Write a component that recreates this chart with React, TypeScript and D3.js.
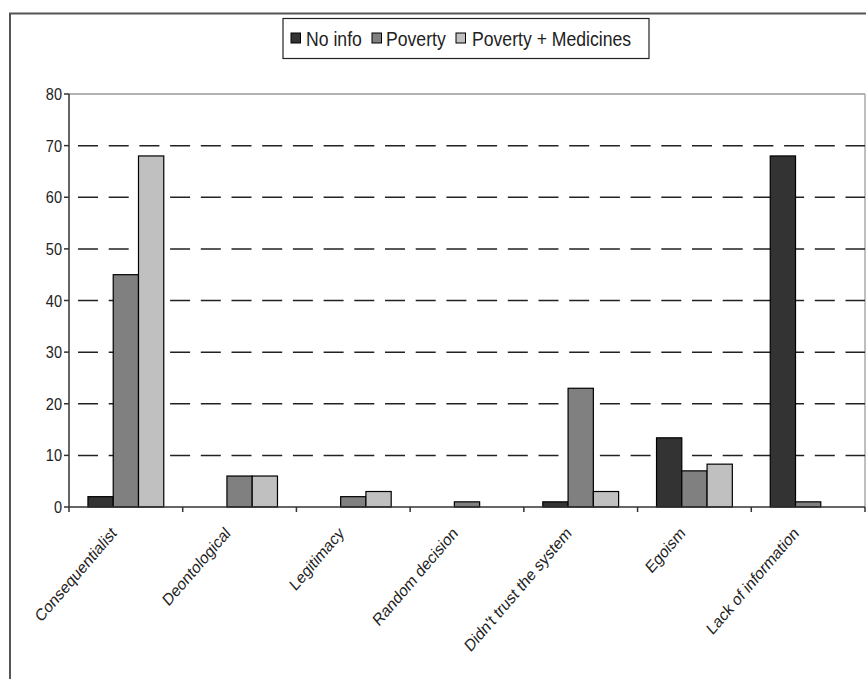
import React from "react";
import * as d3 from "d3";

const categories = [
  "Consequentialist",
  "Deontological",
  "Legitimacy",
  "Random decision",
  "Didn't trust the system",
  "Egoism",
  "Lack of information",
];
const seriesNames = ["No info", "Poverty", "Poverty + Medicines"];
const noInfo = [2, 0, 0, 0, 1, 13.4, 68];
const poverty = [45, 6, 2, 1, 23, 7, 1];
const povertyMedicines = [68, 6, 3, 0, 3, 8.3, 0];
const seriesColors = ["#333333", "#808080", "#c0c0c0"];
const yTicks = [0, 10, 20, 30, 40, 50, 60, 70, 80];

const W = 866;
const H = 679;
const left = 69;
const right = 865;
const top = 94;
const bottom = 507;
const FONT = "'Liberation Sans', Arial, sans-serif";

export default function App() {
  const values = [noInfo, poverty, povertyMedicines];
  const x = d3.scaleBand<string>().domain(categories).range([left, right]).padding(0);
  const bw = x.bandwidth();
  const gap = (bw * 1.5) / 4.5;
  const inner = d3
    .scaleBand<string>()
    .domain(seriesNames)
    .range([gap / 2, bw - gap / 2])
    .padding(0);
  const y = d3.scaleLinear().domain([0, 80]).range([bottom, top]);

  const legendItems = [
    { mx: 291, tx: 306 },
    { mx: 372, tx: 386 },
    { mx: 456, tx: 472 },
  ];

  return (
    <svg
      width={W}
      height={H}
      style={{ position: "absolute", left: 0, top: 0, background: "#fff" }}
      fontFamily={FONT}
    >
      {/* outer chart border */}
      <rect x={10} y={13.5} width={900} height={700} fill="none" stroke="#555" strokeWidth={2} />

      {/* legend */}
      <rect x={283} y={18.5} width={366} height={40} fill="#fff" stroke="#222" strokeWidth={1.2} />
      {seriesNames.map((s, i) => (
        <g key={s}>
          <rect
            x={legendItems[i].mx}
            y={33}
            width={9.5}
            height={10}
            fill={seriesColors[i]}
            stroke="#000"
            strokeWidth={1}
          />
          <text
            transform={`translate(${legendItems[i].tx},45.5) scale(0.84,1)`}
            fontSize={21}
            fill="#222"
          >
            {s}
          </text>
        </g>
      ))}

      {/* plot area border (top & right) */}
      <line x1={left} x2={right} y1={top} y2={top} stroke="#999" strokeWidth={1.5} />
      <line x1={right} x2={right} y1={top} y2={bottom} stroke="#aaa" strokeWidth={1.5} />

      {/* gridlines */}
      {yTicks
        .filter((t) => t > 0 && t < 80)
        .map((t) => (
          <line
            key={t}
            x1={left}
            x2={right}
            y1={y(t)}
            y2={y(t)}
            stroke="#222"
            strokeWidth={1.5}
            strokeDasharray="20,10.7"
            strokeDashoffset={-9}
          />
        ))}

      {/* bars */}
      {categories.map((c, ci) => (
        <g key={c}>
          {seriesNames.map((s, si) => {
            const v = values[si][ci];
            if (v <= 0) return null;
            const x0 = (x(c) as number) + (inner(s) as number);
            return (
              <rect
                key={s}
                x={x0}
                y={y(v)}
                width={inner.bandwidth()}
                height={y(0) - y(v)}
                fill={seriesColors[si]}
                stroke="#000"
                strokeWidth={1.2}
              />
            );
          })}
        </g>
      ))}

      {/* y axis */}
      <line x1={left} x2={left} y1={top} y2={bottom} stroke="#333" strokeWidth={1.5} />
      {yTicks.map((t) => (
        <g key={t}>
          <line x1={left - 5} x2={left} y1={y(t)} y2={y(t)} stroke="#333" strokeWidth={1.5} />
          <text
            transform={`translate(${left - 7},${y(t) + 6}) scale(0.88,1)`}
            textAnchor="end"
            fontSize={16.5}
            fill="#222"
          >
            {t}
          </text>
        </g>
      ))}

      {/* x axis */}
      <line x1={left} x2={right} y1={bottom} y2={bottom} stroke="#333" strokeWidth={1.5} />
      {categories.concat(["__end"]).map((c, i) => {
        const xx = i < categories.length ? (x(c) as number) : right;
        return <line key={c} x1={xx} x2={xx} y1={bottom} y2={bottom + 5} stroke="#333" strokeWidth={1.5} />;
      })}
      {categories.map((c) => {
        const cx = (x(c) as number) + bw / 2;
        return (
          <text
            key={c}
            transform={`translate(${cx - 12},${530}) scale(0.86,1) rotate(-45)`}
            textAnchor="end"
            fontSize={17}
            dy="0.35em"
            fill="#222"
          >
            {c}
          </text>
        );
      })}
    </svg>
  );
}
